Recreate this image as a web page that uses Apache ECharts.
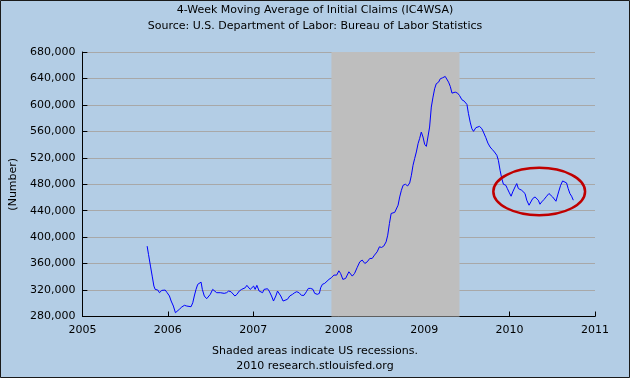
<!DOCTYPE html>
<html><head><meta charset="utf-8">
<script src="https://cdn.jsdelivr.net/npm/echarts@6/dist/echarts.min.js"></script>
<style>html,body{margin:0;padding:0;background:#b3cde5}#c{width:630px;height:378px}</style>
</head><body><div id="c"></div>
<script>
const titleLines = ['4-Week Moving Average of Initial Claims (IC4WSA)', 'Source: U.S. Department of Labor: Bureau of Labor Statistics'];
const footLines = ['Shaded areas indicate US recessions.', '2010 research.stlouisfed.org'];
const yAxisName = '(Number)';
const xTickYears = [2005, 2006, 2007, 2008, 2009, 2010, 2011];
const yTickValues = [280000, 320000, 360000, 400000, 440000, 480000, 520000, 560000, 600000, 640000, 680000];
const recession = [2007.915, 2009.414];
const highlightCenter = [2010.347, 469000];
const highlightRadius = [0.537, 35800];

const claimDates = [
2005.758,2005.774,2005.797,2005.817,2005.837,2005.852,2005.883,2005.902,2005.930,2005.953,2005.969,2005.992,
2006.019,2006.039,2006.065,2006.089,2006.109,2006.135,2006.163,2006.194,2006.222,2006.245,2006.272,2006.292,
2006.310,2006.330,2006.350,2006.369,2006.389,2006.404,2006.427,2006.455,2006.478,2006.497,2006.525,2006.544,
2006.572,2006.590,2006.614,2006.634,2006.660,2006.688,2006.712,2006.739,2006.762,2006.785,2006.809,2006.836,
2006.864,2006.887,2006.906,2006.925,2006.945,2006.964,2006.984,2007.004,2007.022,2007.042,2007.069,2007.089,
2007.109,2007.127,2007.147,2007.167,2007.186,2007.214,2007.237,2007.264,2007.284,2007.302,2007.322,2007.349,
2007.372,2007.400,2007.427,2007.459,2007.485,2007.509,2007.536,2007.564,2007.594,2007.622,2007.645,2007.672,
2007.699,2007.719,2007.750,2007.774,2007.789,2007.809,2007.836,2007.859,2007.886,2007.914,2007.944,2007.976,
2008.002,2008.022,2008.049,2008.081,2008.119,2008.159,2008.186,2008.217,2008.247,2008.275,2008.306,2008.334,
2008.364,2008.392,2008.419,2008.450,2008.477,2008.501,2008.527,2008.555,2008.574,2008.594,2008.614,2008.637,
2008.656,2008.676,2008.695,2008.714,2008.734,2008.754,2008.781,2008.807,2008.831,2008.851,2008.870,2008.889,
2008.909,2008.929,2008.947,2008.967,2008.987,2009.006,2009.026,2009.046,2009.064,2009.084,2009.104,2009.123,
2009.142,2009.169,2009.189,2009.216,2009.247,2009.267,2009.286,2009.306,2009.326,2009.344,2009.364,2009.391,
2009.414,2009.442,2009.469,2009.501,2009.519,2009.539,2009.559,2009.578,2009.606,2009.629,2009.648,2009.676,
2009.694,2009.722,2009.746,2009.772,2009.799,2009.823,2009.851,2009.869,2009.889,2009.909,2009.928,2009.956,
2009.974,2009.998,2010.018,2010.037,2010.064,2010.084,2010.103,2010.123,2010.142,2010.161,2010.181,2010.201,
2010.228,2010.247,2010.271,2010.298,2010.317,2010.336,2010.356,2010.376,2010.403,2010.434,2010.461,2010.481,
2010.504,2010.523,2010.543,2010.558,2010.574,2010.598,2010.621,2010.644,2010.667,2010.686,2010.706,2010.726,
2010.746
];
const claimValues = [
386400,373900,356200,341100,326000,321000,320000,316000,319500,317000,320000,316000,
311000,303400,295800,285700,286800,290900,294300,296900,295800,294300,294800,300800,
311000,321000,328600,331000,332000,321000,311000,306900,306000,313500,321000,318500,
316000,313500,316000,313500,315000,316000,318500,317500,315000,311000,313500,318500,
321000,319500,323500,327100,327100,321000,322000,326000,321000,327100,318500,321000,
316000,321000,319500,322000,318500,311000,303400,311000,318500,320000,311000,303400,
302600,306000,311000,313500,316000,317500,316000,312000,312000,317500,322500,322500,
321000,315000,313500,315000,323500,328600,330100,330100,336100,338600,342600,342600,
349100,345200,336100,337600,347600,341100,345200,354300,362700,365300,360200,362700,
367800,367800,372800,377800,385400,384400,386400,392900,403000,420700,435800,438200,
437500,438200,448300,460800,470900,478500,480000,477400,482000,493600,508700,518800,
528800,541400,549000,558900,551400,540400,537300,538900,566500,596700,611800,624400,
632000,634400,639500,641000,643000,641000,634400,628000,617800,620800,619300,617800,
614300,607800,605700,600700,586700,574000,564000,560000,565600,564000,567500,564000,
558900,550500,542300,536300,532400,528800,523800,516200,501100,488600,480000,478500,
473500,466900,461900,468400,475900,481000,473500,475900,470900,471700,466000,455900,
448300,450900,458400,460800,463400,455900,449800,453300,456900,461900,466000,464900,
460800,458400,454300,456900,468400,478500,485000,487100,482000,473500,466000,461900,
455900
];

const FONT = 'DejaVu Sans';
const chart = echarts.init(document.getElementById('c'), null, {renderer: 'canvas'});
const seriesData = claimDates.map((d, i) => [d, claimValues[i]]);
const textStyle = {fontFamily: FONT, fontSize: 11, fontWeight: 'normal', color: '#000'};
const textTops = [5, 21, 346, 361];
const allLines = titleLines.concat(footLines);

chart.setOption({
  animation: false,
  backgroundColor: '#b3cde5',
  title: allLines.map((t, i) => ({text: t, left: 'center', top: textTops[i], padding: 0, textStyle: textStyle})),
  grid: {left: 81, right: 35, top: 52, bottom: 61.5, containLabel: false},
  xAxis: {
    type: 'value', min: xTickYears[0], max: xTickYears[xTickYears.length - 1], interval: 1,
    axisLine: {lineStyle: {color: '#000', width: 1}},
    axisTick: {inside: true, length: 5, lineStyle: {color: '#000'}},
    axisLabel: {fontFamily: FONT, fontSize: 11, color: '#000', margin: 8, formatter: v => String(v)},
    splitLine: {show: false}
  },
  yAxis: {
    type: 'value', min: yTickValues[0], max: yTickValues[yTickValues.length - 1], interval: 40000,
    name: yAxisName, nameLocation: 'middle', nameGap: 60, nameRotate: 90,
    nameTextStyle: {fontFamily: FONT, fontSize: 11, color: '#000'},
    axisLine: {show: true, lineStyle: {color: '#000', width: 1}},
    axisTick: {show: true, inside: true, length: 5, lineStyle: {color: '#000'}},
    axisLabel: {fontFamily: FONT, fontSize: 11, color: '#000', margin: 7, formatter: v => v.toLocaleString('en-US')},
    splitLine: {show: true, lineStyle: {color: '#a8a8a8', width: 1}}
  },
  series: [{
    type: 'line', data: seriesData, showSymbol: false, symbol: 'none',
    lineStyle: {color: '#0000ff', width: 1}, itemStyle: {color: '#0000ff'},
    markArea: {silent: true, itemStyle: {color: '#bebebe', opacity: 1}, data: [[{xAxis: recession[0]}, {xAxis: recession[1]}]]},
    z: 3
  }]
});

const c = chart.convertToPixel({gridIndex: 0}, highlightCenter);
const e = chart.convertToPixel({gridIndex: 0}, [highlightCenter[0] + highlightRadius[0], highlightCenter[1] + highlightRadius[1]]);
chart.setOption({
  graphic: [
    {type: 'ellipse', id: 'hl', shape: {cx: c[0], cy: c[1], rx: Math.abs(e[0] - c[0]), ry: Math.abs(c[1] - e[1])},
     style: {fill: 'none', stroke: '#c00000', lineWidth: 2.5}, z: 100},
    {type: 'rect', id: 'border', shape: {x: 0.5, y: 0.5, width: 629, height: 377},
     style: {fill: 'none', stroke: '#1a1a1a', lineWidth: 1}, z: 100}
  ]
});
</script></body></html>
